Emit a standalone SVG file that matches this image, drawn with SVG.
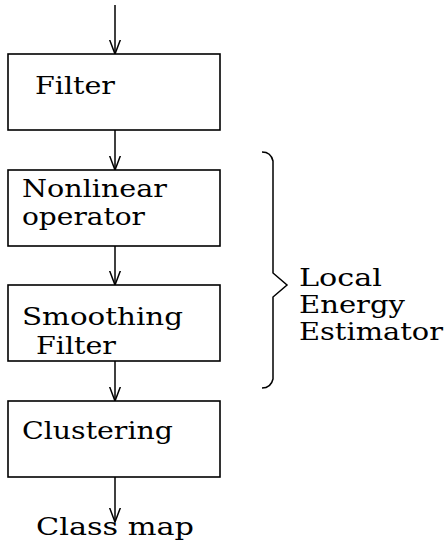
<svg xmlns="http://www.w3.org/2000/svg" width="444" height="544" viewBox="0 0 444 544">
<style>
rect.box{fill:#fff;stroke:#000;stroke-width:1.6}
.ln{fill:none;stroke:#000;stroke-width:1.5}
text{font-family:"DejaVu Serif","Liberation Serif",serif;font-size:24px;fill:#000}
</style>
<defs>
<marker id="v" viewBox="0 0 15 12" refX="14.5" refY="6" markerWidth="15" markerHeight="12" markerUnits="userSpaceOnUse" orient="auto">
<path d="M0,0.5 L14.5,6 L0,11.5" fill="none" stroke="#000" stroke-width="1.5"/>
</marker>
</defs>
<rect width="444" height="544" fill="#fff"/>
<g id="connectors">
<line class="ln" x1="115" y1="5" x2="115" y2="54" marker-end="url(#v)"/>
<line class="ln" x1="115" y1="130" x2="115" y2="170" marker-end="url(#v)"/>
<line class="ln" x1="115" y1="246" x2="115" y2="285" marker-end="url(#v)"/>
<line class="ln" x1="115" y1="361" x2="115" y2="401" marker-end="url(#v)"/>
<line class="ln" x1="115" y1="477" x2="115" y2="522" marker-end="url(#v)"/>
</g>
<g id="filter">
<rect class="box" x="8" y="54" width="212" height="76"/>
<text x="35" y="94" textLength="80" lengthAdjust="spacingAndGlyphs">Filter</text>
</g>
<g id="nonlinear">
<rect class="box" x="8" y="170" width="212" height="76"/>
<text x="22" y="197" textLength="145" lengthAdjust="spacingAndGlyphs">Nonlinear</text>
<text x="22" y="225" textLength="123" lengthAdjust="spacingAndGlyphs">operator</text>
</g>
<g id="smoothing">
<rect class="box" x="8" y="285" width="212" height="76"/>
<text x="22" y="325" textLength="161" lengthAdjust="spacingAndGlyphs">Smoothing</text>
<text x="36" y="354" textLength="80" lengthAdjust="spacingAndGlyphs">Filter</text>
</g>
<g id="clustering">
<rect class="box" x="8" y="401" width="212" height="76"/>
<text x="22" y="439" textLength="151" lengthAdjust="spacingAndGlyphs">Clustering</text>
</g>
<g id="classmap">
<text x="36" y="535" textLength="158" lengthAdjust="spacingAndGlyphs">Class map</text>
</g>
<g id="brace">
<path class="ln" d="M262,152 Q271,152 273,161 L273,273 L287,285 L273,297 L273,379 Q271,388 262,388"/>
<text x="299" y="286" textLength="83" lengthAdjust="spacingAndGlyphs">Local</text>
<text x="299" y="313" textLength="106" lengthAdjust="spacingAndGlyphs">Energy</text>
<text x="299" y="340" textLength="144" lengthAdjust="spacingAndGlyphs">Estimator</text>
</g>
</svg>
